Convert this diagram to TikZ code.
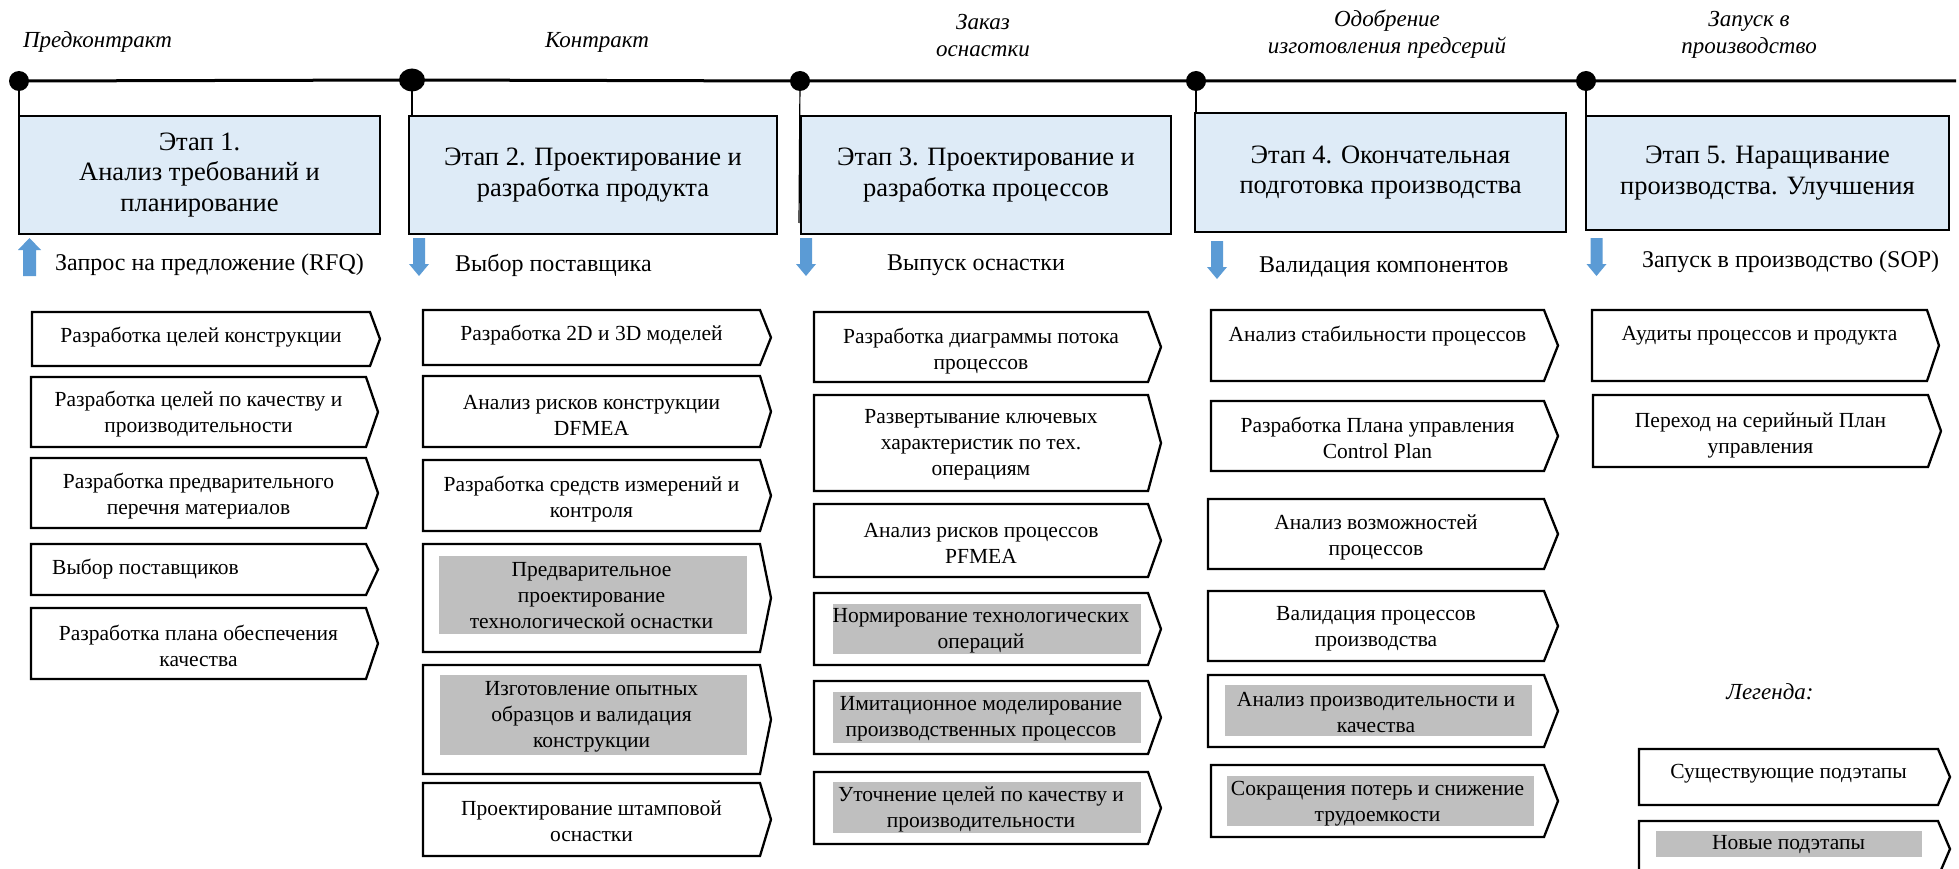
\documentclass[tikz,border=0pt]{standalone}
\usepackage{fontspec}
\setmainfont{Liberation Serif}
\usetikzlibrary{shapes.geometric}
\definecolor{stagefill}{HTML}{DEEBF7}
\definecolor{arrowblue}{HTML}{5B9BD5}
\definecolor{newgray}{HTML}{BFBFBF}
\tikzset{
 stagebox/.style={draw=black, line width=2.3pt, fill=stagefill, inner sep=0pt, align=center, font=\fontsize{26.5}{30.5}\selectfont},
 chevline/.style={draw=black, line width=2.3pt, line join=miter},
 subtxt/.style={inner sep=0pt, align=center, font=\fontsize{21.5}{26}\selectfont},
 arrlabel/.style={inner sep=0pt, anchor=west, font=\fontsize{24}{28}\selectfont},
 milestone/.style={inner sep=0pt, align=center, font=\fontsize{23}{27}\selectfont\itshape},
 msdot/.style={ellipse, fill=black, inner sep=0pt, minimum width=20pt, minimum height=20pt},
 timeline/.style={line width=3pt},
 stem/.style={line width=1.2pt},
 blockarrow/.style={fill=arrowblue, draw=none},
 newbox/.style={fill=newgray, draw=none},
}
\newcommand\chevbox[8]{%
 \draw[chevline] (#2,#3) -- (#4,#3) -- (#6,{(#3+#5)/2}) -- (#4,#5) -- (#2,#5) -- cycle;
 \node[subtxt] (#1) at ({(#2+#4)/2},#7) {#8};
}
\newcommand\bluedown[3]{\fill[blockarrow] ({#1-6},#2) -- ({#1+6},#2) -- ({#1+6},{#3-12}) -- ({#1+10},{#3-12}) -- (#1,#3) -- ({#1-10},{#3-12}) -- ({#1-6},{#3-12}) -- cycle;}
\newcommand\blueup[3]{\fill[blockarrow] ({#1-6.5},#3) -- ({#1+6.5},#3) -- ({#1+6.5},{#2+12}) -- ({#1+11.5},{#2+12}) -- (#1,#2) -- ({#1-11.5},{#2+12}) -- ({#1-6.5},{#2+12}) -- cycle;}
\begin{document}
\begin{tikzpicture}[x=1pt,y=-1pt]
\useasboundingbox (0,0) rectangle (1959,869);
\clip (0,0) rectangle (1959,869);
\fill[white] (0,0) rectangle (1959,869);

% milestones
\node[milestone] (m1) at (97.5,42) {Предконтракт};
\node[milestone] (m2) at (597,42) {Контракт};
\node[milestone] (m3) at (983,35.5) {Заказ\\оснастки};
\node[milestone] (m4) at (1387,34) {Одобрение\\изготовления предсерий};
\node[milestone] (m5) at (1749,34.5) {Запуск в\\производство};

% timeline
\coordinate (tlend) at (1956,81);
\node[msdot] (d1) at (19,81) {};
\node[msdot, minimum width=26pt, minimum height=23pt] (d2) at (412,80) {};
\node[msdot] (d3) at (800,81) {};
\node[msdot] (d4) at (1196,81) {};
\node[msdot] (d5) at (1586,81) {};
\draw[timeline] (d1.center) -- (d2.center) -- (d3.center) -- (d4.center) -- (d5.center) -- (tlend);

% stages
\node[stagebox, minimum width=361pt, minimum height=118pt] (s1) at (199.5,175) {Этап 1.\\Анализ требований и\\планирование};
\node[stagebox, minimum width=368pt, minimum height=118pt] (s2) at (593,175) {Этап 2. Проектирование и\\разработка продукта};
\node[stagebox, minimum width=370pt, minimum height=118pt] (s3) at (986,175) {Этап 3. Проектирование и\\разработка процессов};
\node[stagebox, minimum width=371pt, minimum height=119pt] (s4) at (1380.5,172.5) {Этап 4. Окончательная\\подготовка производства};
\node[stagebox, minimum width=363pt, minimum height=114pt] (s5) at (1767.5,173) {Этап 5. Наращивание\\производства. Улучшения};

\coordinate (st3) at (799,223);
\draw[stem] (d1.center) -- (d1.center |- s1.north);
\draw[stem] (d2.center) -- (d2.center |- s2.north);
\draw[stem] (d3.center) -- (st3);
\draw[stem] (d4.center) -- (d4.center |- s4.north);
\draw[stem] (d5.center) -- (d5.center |- s5.north);

% gate arrows and labels
\blueup{29.5}{238}{276}
\bluedown{419}{238}{276}
\bluedown{806}{238}{276}
\bluedown{1217}{241}{279}
\bluedown{1596.5}{238}{276}
\node[arrlabel] (g1) at (55,265) {Запрос на предложение (RFQ)};
\node[arrlabel] (g2) at (455,265) {Выбор поставщика};
\node[arrlabel] (g3) at (887,265) {Выпуск оснастки};
\node[arrlabel] (g4) at (1259,267) {Валидация компонентов};
\node[arrlabel] (g5) at (1642,262) {Запуск в производство (SOP)};

% column 1
\chevbox{a1}{32}{312}{370}{366}{380}{337}{Разработка целей конструкции}
\chevbox{b1}{31}{377}{366}{447}{378}{414.5}{Разработка целей по качеству и\\производительности}
\chevbox{c1}{31}{458}{366}{528}{378}{496}{Разработка предварительного\\перечня материалов}
\draw[chevline] (31,544) -- (366,544) -- (378,569.5) -- (366,595) -- (31,595) -- cycle;
\node[subtxt, anchor=west] (e1x) at (52,569) {Выбор поставщиков};
\chevbox{f1}{31}{608}{366}{679}{378}{646}{Разработка плана обеспечения\\качества}

% column 2
\fill[newbox] (439,556) rectangle (747,634);
\fill[newbox] (440,675) rectangle (747,755);
\chevbox{a2}{423}{310}{760}{365}{771}{335}{Разработка 2D и 3D моделей}
\chevbox{b2}{423}{376}{760}{447}{771}{415.5}{Анализ рисков конструкции\\DFMEA}
\chevbox{c2}{423}{460}{760}{531}{771}{499}{Разработка средств измерений и\\контроля}
\chevbox{d2b}{423}{544}{760}{652}{771}{596}{Предварительное\\проектирование\\технологической оснастки}
\chevbox{e2}{423}{665}{760}{774}{771}{716.5}{Изготовление опытных\\образцов и валидация\\конструкции}
\chevbox{f2}{423}{783}{760}{856}{771}{821}{Проектирование штамповой\\оснастки}

% column 3
\fill[newbox] (833,604) rectangle (1141,654);
\fill[newbox] (833,692) rectangle (1141,743);
\fill[newbox] (833,782) rectangle (1141,833);
\chevbox{a3}{814}{312}{1148}{382}{1161}{351.5}{Разработка диаграммы потока\\процессов}
\chevbox{b3}{814}{395}{1148}{491}{1161}{445}{Развертывание ключевых\\характеристик по тех.\\операциям}
\chevbox{c3}{814}{504}{1148}{577}{1161}{543.5}{Анализ рисков процессов\\PFMEA}
\chevbox{d3b}{814}{593}{1148}{665}{1161}{631}{Нормирование технологических\\операций}
\chevbox{e3}{814}{681}{1148}{754}{1161}{719}{Имитационное моделирование\\производственных процессов}
\chevbox{f3}{814}{772}{1148}{844}{1161}{809}{Уточнение целей по качеству и\\производительности}

% column 4
\fill[newbox] (1225,685) rectangle (1532,736);
\fill[newbox] (1227,776) rectangle (1534,826);
\chevbox{a4}{1211}{310}{1544}{381}{1558}{336}{Анализ стабильности процессов}
\chevbox{b4}{1211}{401}{1544}{471}{1558}{438}{Разработка Плана управления\\Control Plan}
\chevbox{c4}{1208}{499}{1544}{569}{1558}{537}{Анализ возможностей\\процессов}
\chevbox{d4b}{1208}{591}{1544}{661}{1558}{629}{Валидация процессов\\производства}
\chevbox{e4}{1208}{675}{1544}{747}{1558}{712.5}{Анализ производительности и\\качества}
\chevbox{f4}{1211}{765}{1544}{837}{1558}{803.5}{Сокращения потерь и снижение\\трудоемкости}

% column 5
\chevbox{a5}{1592}{310}{1927}{381}{1939}{336}{Аудиты процессов и продукта}
\chevbox{b5}{1593}{395}{1928}{467}{1941}{435}{Переход на серийный План\\управления}

% legend
\node[milestone] (lg) at (1770,692) {Легенда:};
\chevbox{l1}{1639}{749}{1938}{805}{1950}{774}{Существующие подэтапы}
\fill[newbox] (1656,831) rectangle (1922,857);
\chevbox{l2}{1639}{821}{1938}{877}{1950}{845}{Новые подэтапы}
\end{tikzpicture}
\end{document}
